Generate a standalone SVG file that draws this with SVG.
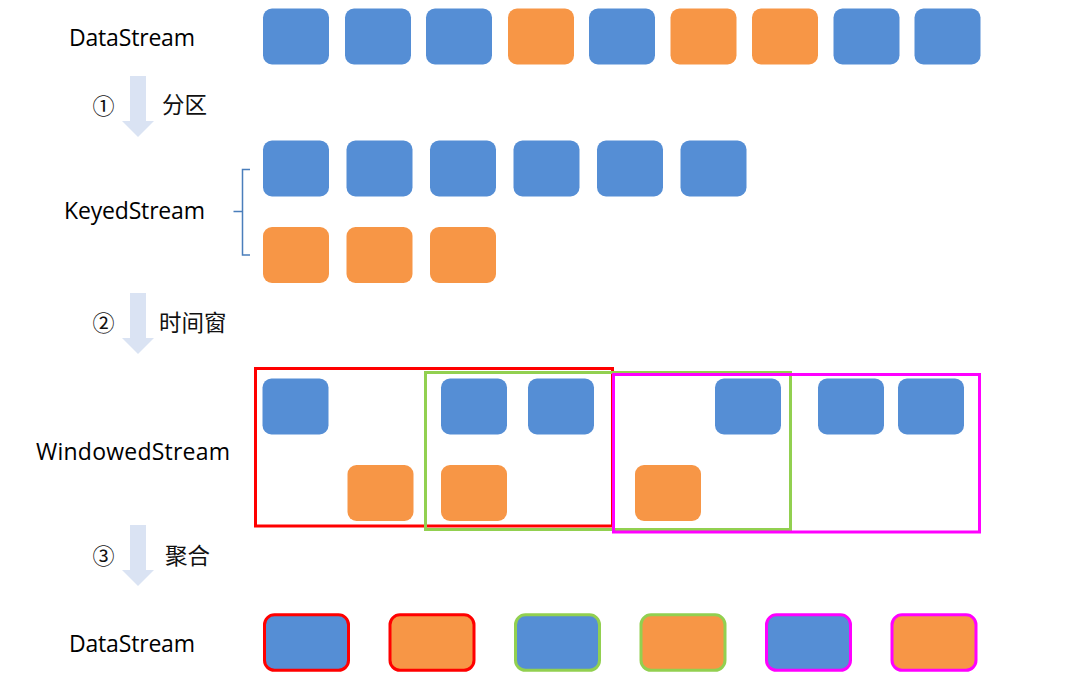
<svg xmlns="http://www.w3.org/2000/svg" width="1083" height="691" viewBox="0 0 1083 691">
<defs>
<style>
.b{fill:#558ED5}
.o{fill:#F79646}
.lbl{font-family:"Open Sans","Noto Sans",sans-serif;font-size:23px;fill:#000}
.cjk{font-family:"Noto Sans CJK SC",sans-serif;font-size:22.5px;fill:#111}
.num{font-family:"Noto Sans CJK SC",serif;font-size:22px;fill:#111}
.arr{fill:#DAE3F3}
.win{fill:none;stroke-width:3}
.out{stroke-width:3}
</style>
</defs>
<rect width="1083" height="691" fill="#fff"/>

<g id="labels">
<text class="lbl" x="69" y="45.5" textLength="126">DataStream</text>
<text class="lbl" x="64" y="218.5" textLength="141">KeyedStream</text>
<text class="lbl" x="36" y="459.5" textLength="194">WindowedStream</text>
<text class="lbl" x="69" y="651.5" textLength="126">DataStream</text>
</g>

<g id="connectors">
<polygon class="arr" points="130,76 146,76 146,121 154,121 138,137 122,121 130,121"/>
<polygon class="arr" points="130,293 146,293 146,338 154,338 138,354 122,338 130,338"/>
<polygon class="arr" points="130,525 146,525 146,570 154,570 138,586 122,570 130,570"/>
<text class="num" x="103.5" y="113.5" text-anchor="middle">①</text>
<text class="cjk" x="162" y="113">分区</text>
<text class="num" x="103.5" y="330.5" text-anchor="middle">②</text>
<text class="cjk" x="159" y="331">时间窗</text>
<text class="num" x="103.5" y="563.5" text-anchor="middle">③</text>
<text class="cjk" x="165" y="564">聚合</text>
<path d="M250,169.5 H242.5 V255 H250 M233.5,211.5 H242.5" fill="none" stroke="#4A7EBB" stroke-width="1.5"/>
</g>

<g id="datastream-in">
<rect class="b" x="263" y="8.5" width="66" height="56" rx="9"/>
<rect class="b" x="345" y="8.5" width="66" height="56" rx="9"/>
<rect class="b" x="426" y="8.5" width="66" height="56" rx="9"/>
<rect class="o" x="508" y="8.5" width="66" height="56" rx="9"/>
<rect class="b" x="589" y="8.5" width="66" height="56" rx="9"/>
<rect class="o" x="670.5" y="8.5" width="66" height="56" rx="9"/>
<rect class="o" x="752" y="8.5" width="66" height="56" rx="9"/>
<rect class="b" x="833.5" y="8.5" width="66" height="56" rx="9"/>
<rect class="b" x="914.5" y="8.5" width="66" height="56" rx="9"/>
</g>

<g id="keyedstream">
<rect class="b" x="263" y="140.5" width="66" height="56" rx="9"/>
<rect class="b" x="346.5" y="140.5" width="66" height="56" rx="9"/>
<rect class="b" x="430" y="140.5" width="66" height="56" rx="9"/>
<rect class="b" x="513.5" y="140.5" width="66" height="56" rx="9"/>
<rect class="b" x="597" y="140.5" width="66" height="56" rx="9"/>
<rect class="b" x="680.5" y="140.5" width="66" height="56" rx="9"/>
<rect class="o" x="263" y="227" width="66" height="56" rx="9"/>
<rect class="o" x="346.5" y="227" width="66" height="56" rx="9"/>
<rect class="o" x="430" y="227" width="66" height="56" rx="9"/>
</g>

<g id="windowedstream">
<rect class="b" x="262.5" y="378.5" width="66" height="56" rx="9"/>
<rect class="o" x="347.5" y="465" width="66" height="56" rx="9"/>
<rect class="b" x="441" y="378.5" width="66" height="56" rx="9"/>
<rect class="b" x="528" y="378.5" width="66" height="56" rx="9"/>
<rect class="o" x="441" y="465" width="66" height="56" rx="9"/>
<rect class="b" x="715" y="378.5" width="66" height="56" rx="9"/>
<rect class="o" x="635" y="465" width="66" height="56" rx="9"/>
<rect class="b" x="818" y="378.5" width="66" height="56" rx="9"/>
<rect class="b" x="898" y="378.5" width="66" height="56" rx="9"/>
<rect class="win" stroke="#FF0000" x="255.5" y="368.5" width="357" height="157.5"/>
<rect class="win" stroke="#92D050" x="425.5" y="372.5" width="365" height="157"/>
<rect class="win" stroke="#FF00FF" x="613.5" y="374.5" width="366" height="157.5"/>
</g>

<g id="datastream-out">
<rect class="b out" stroke="#FF0000" x="264.5" y="614.8" width="84" height="55.5" rx="10"/>
<rect class="o out" stroke="#FF0000" x="390" y="614.8" width="84" height="55.5" rx="10"/>
<rect class="b out" stroke="#92D050" x="515.5" y="614.8" width="84" height="55.5" rx="10"/>
<rect class="o out" stroke="#92D050" x="641" y="614.8" width="84" height="55.5" rx="10"/>
<rect class="b out" stroke="#FF00FF" x="766.5" y="614.8" width="84" height="55.5" rx="10"/>
<rect class="o out" stroke="#FF00FF" x="892" y="614.8" width="84" height="55.5" rx="10"/>
</g>
</svg>
